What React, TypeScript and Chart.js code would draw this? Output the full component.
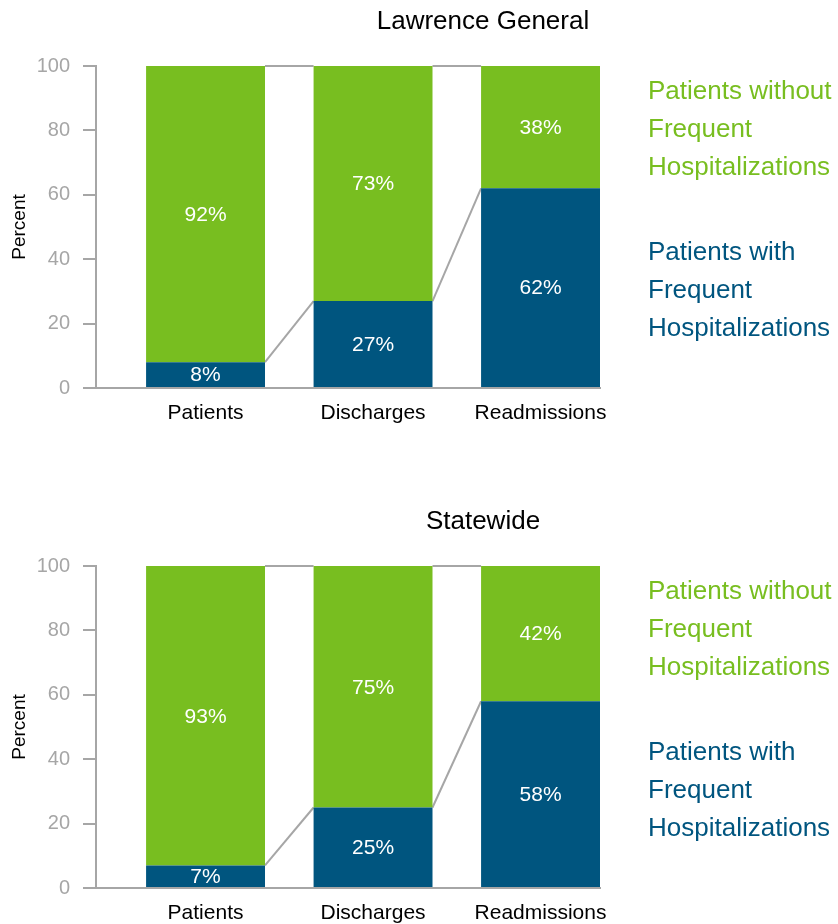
import React, { useEffect, useRef } from "react";
import { Chart, registerables } from "chart.js";

Chart.register(...registerables);

const categories = ["Patients", "Discharges", "Readmissions"];
const lawrenceWith = [8, 27, 62];
const lawrenceWithout = [92, 73, 38];
const statewideWith = [7, 25, 58];
const statewideWithout = [93, 75, 42];
const yTicks = [0, 20, 40, 60, 80, 100];
const seriesWithLabel = "Patients with Frequent Hospitalizations";
const seriesWithoutLabel = "Patients without Frequent Hospitalizations";

const BLUE = "#00557F";
const GREEN = "#78BE20";
const GREY = "#A6A6A6";
const FONT = "'Liberation Sans', Arial, sans-serif";

const connectorPlugin = {
  id: "connectors",
  beforeDatasetsDraw(chart: any) {
    const ctx = chart.ctx;
    const m0 = chart.getDatasetMeta(0).data;
    const m1 = chart.getDatasetMeta(1).data;
    ctx.save();
    ctx.strokeStyle = GREY;
    ctx.lineWidth = 2;
    for (let i = 0; i < m0.length - 1; i++) {
      for (const arr of [m0, m1]) {
        const a = arr[i];
        const b = arr[i + 1];
        ctx.beginPath();
        ctx.moveTo(a.x + a.width / 2, a.y);
        ctx.lineTo(b.x - b.width / 2, b.y);
        ctx.stroke();
      }
    }
    ctx.restore();
  },
};

const labelPlugin = {
  id: "segLabels",
  afterDatasetsDraw(chart: any) {
    const ctx = chart.ctx;
    ctx.save();
    ctx.fillStyle = "#FFFFFF";
    ctx.font = `21px ${FONT}`;
    ctx.textAlign = "center";
    ctx.textBaseline = "middle";
    chart.data.datasets.forEach((ds: any, di: number) => {
      const meta = chart.getDatasetMeta(di);
      meta.data.forEach((el: any, i: number) => {
        const v = ds.data[i].y;
        ctx.fillText(`${v}%`, el.x, (el.y + el.base) / 2 + 1);
      });
    });
    ctx.restore();
  },
};

function StackChart({ withVals, withoutVals }: { withVals: number[]; withoutVals: number[] }) {
  const ref = useRef<HTMLCanvasElement>(null);
  useEffect(() => {
    if (!ref.current) return;
    const chart = new Chart(ref.current, {
      type: "bar",
      data: {
        datasets: [
          {
            label: seriesWithLabel,
            data: withVals.map((v, i) => ({ x: i, y: v })),
            backgroundColor: BLUE,
            borderWidth: 0,
          },
          {
            label: seriesWithoutLabel,
            data: withoutVals.map((v, i) => ({ x: i, y: v })),
            backgroundColor: GREEN,
            borderWidth: 0,
          },
        ],
      },
      options: {
        animation: false,
        responsive: false,
        devicePixelRatio: 1,
        layout: { padding: { top: 66, left: 0, right: 238, bottom: 0 } },
        datasets: { bar: { barPercentage: 0.71, categoryPercentage: 1 } },
        plugins: { legend: { display: false }, tooltip: { enabled: false }, title: { display: false } },
        scales: {
          x: {
            type: "linear",
            stacked: true,
            offset: false,
            min: -0.654,
            max: 2.355,
            afterBuildTicks: (scale: any) => {
              scale.ticks = categories.map((_, i) => ({ value: i }));
            },
            afterFit: (scale: any) => {
              scale.height = 36;
            },
            ticks: {
              callback: (v: any) => categories[v] ?? "",
              color: "#000000",
              font: { family: FONT, size: 21 },
              padding: 13,
              autoSkip: false,
              maxRotation: 0,
            },
            grid: { display: false, drawTicks: false },
            border: { display: true, color: GREY, width: 2 },
          },
          y: {
            stacked: true,
            min: 0,
            max: 100,
            afterBuildTicks: (scale: any) => {
              scale.ticks = yTicks.map((v) => ({ value: v }));
            },
            afterFit: (scale: any) => {
              scale.width = 96;
            },
            ticks: {
              color: GREY,
              font: { family: FONT, size: 20 },
              padding: 13,
            },
            grid: {
              display: true,
              drawOnChartArea: false,
              drawTicks: true,
              tickLength: 13,
              color: GREY,
              lineWidth: 2,
            },
            border: { display: true, color: GREY, width: 2 },
            title: {
              display: true,
              text: "Percent",
              color: "#000000",
              font: { family: FONT, size: 19 },
              padding: { top: 8, bottom: 0 },
            },
          },
        },
      },
      plugins: [connectorPlugin, labelPlugin],
    });
    return () => chart.destroy();
  }, [withVals, withoutVals]);
  return <canvas ref={ref} width={838} height={424} style={{ display: "block" }} />;
}

function Legend({ top }: { top: number }) {
  const base: React.CSSProperties = {
    position: "absolute",
    left: 648,
    fontFamily: FONT,
    fontSize: 26,
    lineHeight: "38px",
    width: 190,
    whiteSpace: "nowrap",
  };
  return (
    <>
      <div style={{ ...base, top: top + 71, color: GREEN }}>
        Patients without
        <br />
        Frequent
        <br />
        Hospitalizations
      </div>
      <div style={{ ...base, top: top + 232, color: BLUE }}>
        Patients with
        <br />
        Frequent
        <br />
        Hospitalizations
      </div>
    </>
  );
}

function Panel({ top, title, w, wo }: { top: number; title: string; w: number[]; wo: number[] }) {
  return (
    <div style={{ position: "absolute", left: 0, top, width: 838, height: 424 }}>
      <StackChart withVals={w} withoutVals={wo} />
      <div
        style={{
          position: "absolute",
          top: 4,
          left: 283,
          width: 400,
          textAlign: "center",
          fontFamily: FONT,
          fontSize: 26,
          lineHeight: "32px",
          color: "#000",
        }}
      >
        {title}
      </div>
      <Legend top={0} />
    </div>
  );
}

export default function App() {
  useEffect(() => {
    document.body.style.margin = "0";
  }, []);
  return (
    <div style={{ position: "relative", width: 838, height: 924, background: "#fff", overflow: "hidden" }}>
      <Panel top={0} title="Lawrence General" w={lawrenceWith} wo={lawrenceWithout} />
      <Panel top={500} title="Statewide" w={statewideWith} wo={statewideWithout} />
    </div>
  );
}
